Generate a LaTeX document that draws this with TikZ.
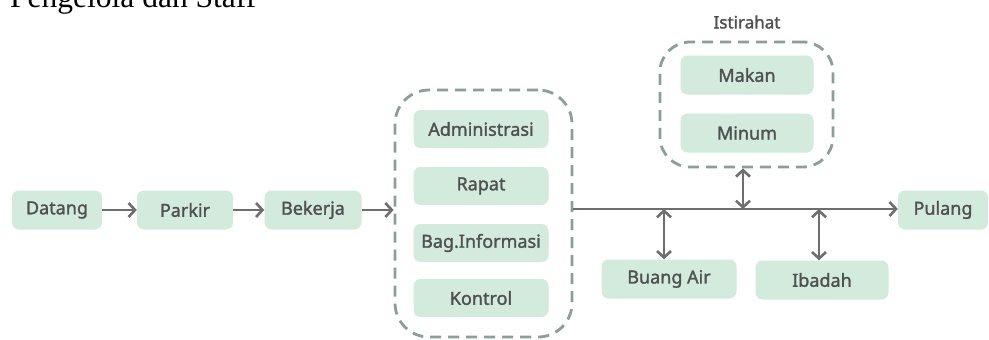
\documentclass[tikz,border=0pt]{standalone}
\usepackage{fontspec}
\setmainfont{Noto Sans}[FakeBold=1.2]
\newfontfamily\labelfont{Noto Sans}[FakeBold=1.5]
\newfontfamily\titlefont{Liberation Serif}
\usetikzlibrary{arrows.meta}
\definecolor{boxgreen}{HTML}{D3EBDD}
\definecolor{txtgray}{HTML}{505050}
\definecolor{arrgray}{HTML}{6E6E6E}
\definecolor{dashgray}{HTML}{87A196}
\tikzset{
  stepbox/.style={rounded corners=7pt, fill=boxgreen, text=txtgray, font=\labelfont\fontsize{18}{20}\selectfont, inner sep=0pt, minimum height=39pt},
  groupbox/.style={draw=dashgray, line width=2.8pt, dash pattern=on 11pt off 7pt, inner sep=0pt},
  flow/.style={draw=arrgray, line width=2.6pt, -{Straight Barb[length=6.5pt,width=14pt,line width=2.6pt]}},
  both/.style={draw=arrgray, line width=2.6pt, {Straight Barb[length=6.5pt,width=14pt,line width=2.6pt]}-{Straight Barb[length=6.5pt,width=14pt,line width=2.6pt]}},
}
\begin{document}
\begin{tikzpicture}[x=1pt,y=-1pt]
\useasboundingbox[fill=white] (0,0) rectangle (989,340);
\node[anchor=base west, inner sep=0pt, font=\titlefont\fontsize{31.5}{34}\selectfont, text=black] (title) at (10,7) {Pengelola dan Staff};
% main chain
\node[stepbox, minimum width=90pt] (datang) at (57,210) {Datang};
\node[stepbox, minimum width=96pt] (parkir) at (185,210) {Parkir};
\node[stepbox, minimum width=97pt] (bekerja) at (313,210) {Bekerja};
% work group
\node[groupbox, rounded corners=34pt, minimum width=177pt, minimum height=247pt] (work) at (483.5,213.5) {};
\node[stepbox, minimum width=135pt, minimum height=38pt] (admin) at (481,129) {Administrasi};
\node[stepbox, minimum width=135pt, minimum height=38pt] (rapat) at (481,186) {Rapat};
\node[stepbox, minimum width=135pt, minimum height=38pt] (info) at (481,243) {Bag.Informasi};
\node[stepbox, minimum width=135pt, minimum height=38pt] (kontrol) at (481,298) {Kontrol};
% rest group
\node[text=txtgray, font=\labelfont\fontsize{17}{20}\selectfont, inner sep=0pt] (istlabel) at (747,22) {Istirahat};
\node[groupbox, rounded corners=30pt, minimum width=173pt, minimum height=125pt] (rest) at (746.5,104.5) {};
\node[stepbox, minimum width=133pt] (makan) at (747,75) {Makan};
\node[stepbox, minimum width=133pt] (minum) at (747,133) {Minum};
% bottom
\node[stepbox, minimum width=135pt] (buang) at (669,279) {Buang Air};
\node[stepbox, minimum width=133pt] (ibadah) at (822,280) {Ibadah};
\node[stepbox, minimum width=90pt] (pulang) at (943,210) {Pulang};
% junctions on main line
\coordinate (jbuang) at (664,209);
\coordinate (jrest) at (743,209);
\coordinate (jibadah) at (819,209);
% connectors
\draw[flow] (datang) -- (parkir);
\draw[flow] (parkir) -- (bekerja);
\draw[flow] (bekerja) -- (work.west |- bekerja);
\draw[flow] (work.east |- jrest) -- (pulang.west |- jrest);
\draw[both] (jrest |- rest.south) -- (jrest);
\draw[both] (jbuang) -- (jbuang |- buang.north);
\draw[both] (jibadah) -- (jibadah |- ibadah.north);
\end{tikzpicture}
\end{document}
